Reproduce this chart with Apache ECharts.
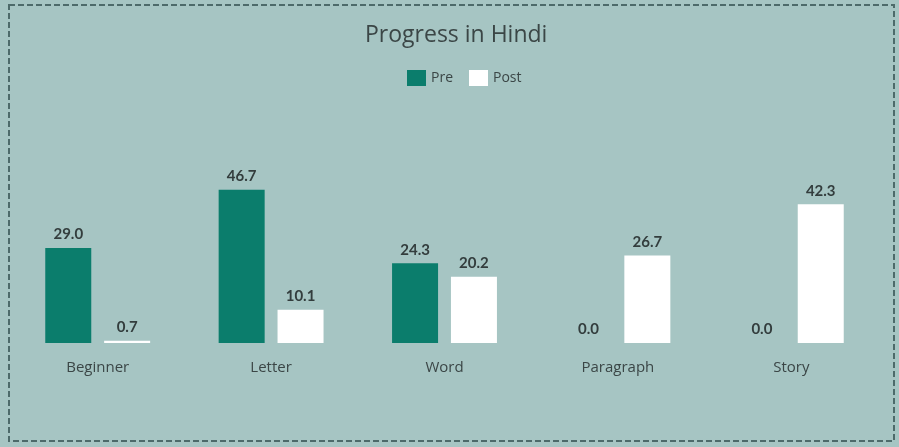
<!DOCTYPE html>
<html>
<head>
<meta charset="utf-8">
<script src="https://cdn.jsdelivr.net/npm/echarts@6/dist/echarts.min.js"></script>
<style>
  html, body { margin: 0; padding: 0; background: #a6c5c3; }
  #chart { width: 899px; height: 447px; }
</style>
</head>
<body>
<div id="chart"></div>
<script>
const categories = ['Beginner', 'Letter', 'Word', 'Paragraph', 'Story']
const preValues = [29.0, 46.7, 24.3, 0.0, 0.0]
const postValues = [0.7, 10.1, 20.2, 26.7, 42.3]

const chart = echarts.init(document.getElementById('chart'))
const labelStyle = {
  show: true,
  position: 'top',
  distance: 6,
  color: '#333d3d',
  fontWeight: 'bold',
  fontSize: 15,
  fontFamily: 'Lato',
  formatter: p => p.value.toFixed(1)
}
const option = {
  backgroundColor: '#a6c5c3',
  animation: false,
  title: {
    text: 'Progress in Hindi',
    left: 360,
    top: 19,
    textStyle: { color: '#3b4646', fontSize: 23, fontWeight: 'normal', fontFamily: 'Open Sans' }
  },
  legend: {
    data: ['Pre', 'Post'],
    top: 65,
    left: 402,
    itemWidth: 19,
    itemHeight: 16,
    itemGap: 16,
    icon: 'rect',
    textStyle: { color: '#3b4646', fontSize: 14, fontFamily: 'Open Sans' }
  },
  grid: { left: 11, right: 21, top: 179, bottom: 104 },
  xAxis: {
    type: 'category',
    data: categories,
    axisLine: { show: false },
    axisTick: { show: false },
    axisLabel: { color: '#3b4646', fontSize: 15, fontFamily: 'Open Sans', margin: 17 }
  },
  yAxis: {
    type: 'value',
    min: 0,
    max: 50,
    show: false,
    splitLine: { show: false }
  },
  series: [
    {
      name: 'Pre',
      type: 'bar',
      data: preValues,
      barWidth: 46,
      barGap: '28%',
      itemStyle: { color: '#0b7d6c' },
      label: labelStyle
    },
    {
      name: 'Post',
      type: 'bar',
      data: postValues,
      barWidth: 46,
      itemStyle: { color: '#ffffff' },
      label: labelStyle
    }
  ],
  graphic: [
    {
      type: 'rect',
      shape: { x: 9, y: 5, width: 885, height: 436 },
      style: { fill: 'none', stroke: '#4d6a6a', lineWidth: 2, lineDash: [6, 3] },
      silent: true
    }
  ]
}
chart.setOption(option)
</script>
</body>
</html>
